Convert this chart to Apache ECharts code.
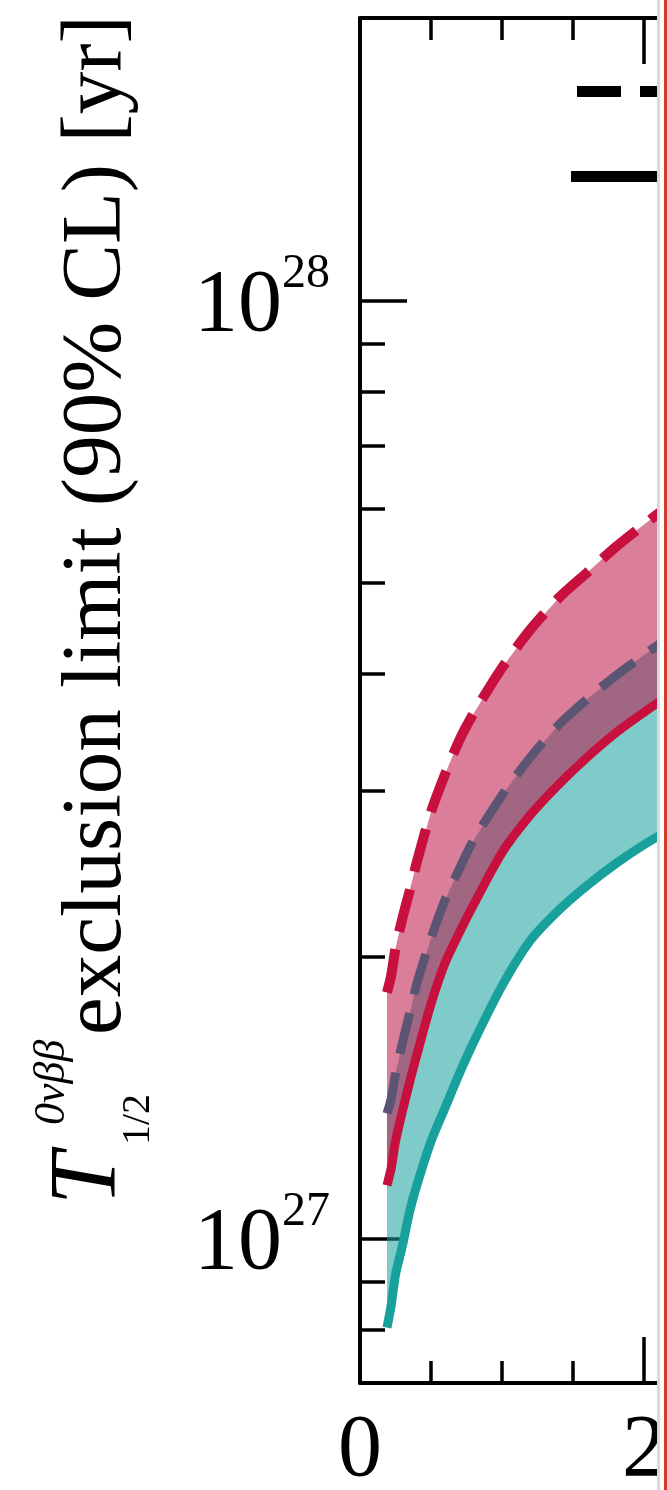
<!DOCTYPE html>
<html><head><meta charset="utf-8">
<script src="https://cdn.jsdelivr.net/npm/echarts@6.0.0/dist/echarts.min.js"></script>
<style>html,body{margin:0;padding:0;background:#fff;}#chart{width:667px;height:1490px;}</style>
</head><body><div id="chart"></div>
<script>
// ---- data ----
const xValues     = [0.19, 0.22, 0.25, 0.3, 0.35, 0.4, 0.5, 0.6, 0.7, 0.8, 1.0, 1.2, 1.4, 1.6, 1.8, 2.0, 2.2];
const redDashed   = [1.83e27, 1.91e27, 2.04e27, 2.20e27, 2.35e27, 2.52e27, 2.85e27, 3.13e27, 3.40e27, 3.63e27, 4.06e27, 4.46e27, 4.82e27, 5.13e27, 5.46e27, 5.77e27, 6.09e27];
const slateDashed = [1.36e27, 1.41e27, 1.50e27, 1.62e27, 1.74e27, 1.87e27, 2.09e27, 2.30e27, 2.48e27, 2.66e27, 2.97e27, 3.26e27, 3.53e27, 3.76e27, 3.98e27, 4.19e27, 4.40e27];
const redSolid    = [1.14e27, 1.19e27, 1.27e27, 1.37e27, 1.47e27, 1.57e27, 1.78e27, 1.97e27, 2.12e27, 2.27e27, 2.58e27, 2.83e27, 3.05e27, 3.26e27, 3.46e27, 3.64e27, 3.82e27];
const tealSolid   = [8.04e26, 8.50e26, 9.16e26, 9.85e26, 1.07e27, 1.14e27, 1.27e27, 1.38e27, 1.50e27, 1.62e27, 1.86e27, 2.08e27, 2.24e27, 2.38e27, 2.51e27, 2.63e27, 2.74e27];
const yMajorTicks = [1e27, 1e28];
const yMinorTicks = [8e26, 9e26, 2e27, 3e27, 4e27, 5e27, 6e27, 7e27, 8e27, 9e27];
const yTitleMain  = 'exclusion limit (90% CL) [yr]';
const yTitleSym   = 'T';
const yTitleSup   = '0νββ';
const yTitleSub   = '1/2';

// ---- styling ----
const SERIF = "'Liberation Serif','Times New Roman',serif";
const RED = '#c8103f', SLATE = '#5c5473', TEAL = '#17a09c';
const SMOOTH = 0.25;
const pts = ys => xValues.map((x, i) => [x, ys[i]]);

function bandSeries(lo, hi, color) {
  return {
    type: 'custom', coordinateSystem: 'cartesian2d', silent: true, z: 1,
    data: [[xValues[0], lo[0]]],
    renderItem: (params, api) => {
      const lower = xValues.map((x, i) => api.coord([x, lo[i]]));
      const upper = xValues.map((x, i) => api.coord([x, hi[i]])).reverse();
      return {type: 'polygon', shape: {points: lower.concat(upper)}, style: {fill: color}};
    }
  };
}
function lineSeries(ys, color, width, type) {
  return {type: 'line', data: pts(ys), smooth: SMOOTH, symbol: 'none',
    lineStyle: {color, width, type: type || 'solid'}, silent: true, z: 3};
}

const tickStyle = {color: '#000', width: 3.5};
const xAxisCommon = {
  type: 'value', min: 0, max: 2.5, interval: 2,
  axisLine: {show: true, onZero: false, lineStyle: {color: '#000', width: 4}},
  axisTick: {show: true, inside: true, length: 46, lineStyle: tickStyle},
  minorTick: {show: true, splitNumber: 4, length: 22, lineStyle: tickStyle},
  splitLine: {show: false}, minorSplitLine: {show: false}
};
const rotText = (text, x, y, size, italic) => ({
  type: 'text', x, y, rotation: Math.PI / 2, z: 10,
  style: {text, fontFamily: SERIF, fontStyle: italic ? 'italic' : 'normal', fontSize: size, fill: '#000',
    align: 'left', verticalAlign: 'middle', textAlign: 'left', textVerticalAlign: 'middle'}
});
const keyBar = (x, y, w) => ({type: 'rect', z: 20, shape: {x, y, width: w, height: 11}, style: {fill: '#000'}});

const option = {
  backgroundColor: '#fff',
  animation: false,
  grid: {left: 360, top: 18, width: 355, height: 1365, outerBoundsMode: 'none', containLabel: false},
  xAxis: [
    Object.assign({}, xAxisCommon, {position: 'bottom',
      axisLabel: {show: true, margin: 25, fontSize: 88, fontFamily: SERIF, color: '#000', showMaxLabel: false}}),
    Object.assign({}, xAxisCommon, {position: 'top', axisLabel: {show: false}})
  ],
  yAxis: [
    {type: 'log', min: 7.02e26, max: 2e28, position: 'left',
      axisLine: {show: true, lineStyle: {color: '#000', width: 4}},
      axisTick: {show: true, inside: true, length: 47, lineStyle: tickStyle, customValues: yMajorTicks},
      axisLabel: {show: true, margin: 30, customValues: yMajorTicks,
        formatter: v => '{b|10}{s|' + Math.round(Math.log10(v)) + '}',
        rich: {
          b: {fontSize: 88, fontFamily: SERIF, color: '#000', lineHeight: 100, verticalAlign: 'bottom'},
          s: {fontSize: 48, fontFamily: SERIF, color: '#000', lineHeight: 48, verticalAlign: 'top'}
        }},
      splitLine: {show: false}},
    {type: 'log', min: 7.02e26, max: 2e28, position: 'left',
      axisLine: {show: false},
      axisTick: {show: true, inside: true, length: 25, lineStyle: tickStyle, customValues: yMinorTicks},
      axisLabel: {show: false}, splitLine: {show: false}}
  ],
  series: [
    bandSeries(tealSolid, slateDashed, 'rgba(20,160,156,0.55)'),
    bandSeries(redSolid, redDashed, 'rgba(190,20,70,0.55)'),
    lineSeries(tealSolid, TEAL, 9),
    lineSeries(slateDashed, SLATE, 9, [42, 19]),
    lineSeries(redDashed, RED, 10, [44, 18]),
    lineSeries(redSolid, RED, 9)
  ],
  graphic: [
    rotText(yTitleMain, 98, 1035, 85, false),
    rotText(yTitleSym, 90, 1205, 95, true),
    rotText(yTitleSup, 52, 1125, 44, true),
    rotText(yTitleSub, 138, 1145, 40, false),
    // legend keys (their labels lie beyond the cropped edge)
    keyBar(577, 86, 44), keyBar(640, 86, 44),
    keyBar(571, 171, 120),
    // cropped right edge of the page
    {type: 'rect', z: 100, shape: {x: 657, y: 0, width: 3, height: 1490}, style: {fill: '#d9d9d9'}},
    {type: 'rect', z: 100, shape: {x: 660, y: 0, width: 4, height: 1490}, style: {fill: '#fbfbfb'}},
    {type: 'rect', z: 100, shape: {x: 664, y: 0, width: 3, height: 1490}, style: {fill: '#d23a2a'}}
  ]
};

const chart = echarts.init(document.getElementById('chart'), null, {renderer: 'canvas', width: 667, height: 1490});
chart.setOption(option);
</script>
</body></html>
